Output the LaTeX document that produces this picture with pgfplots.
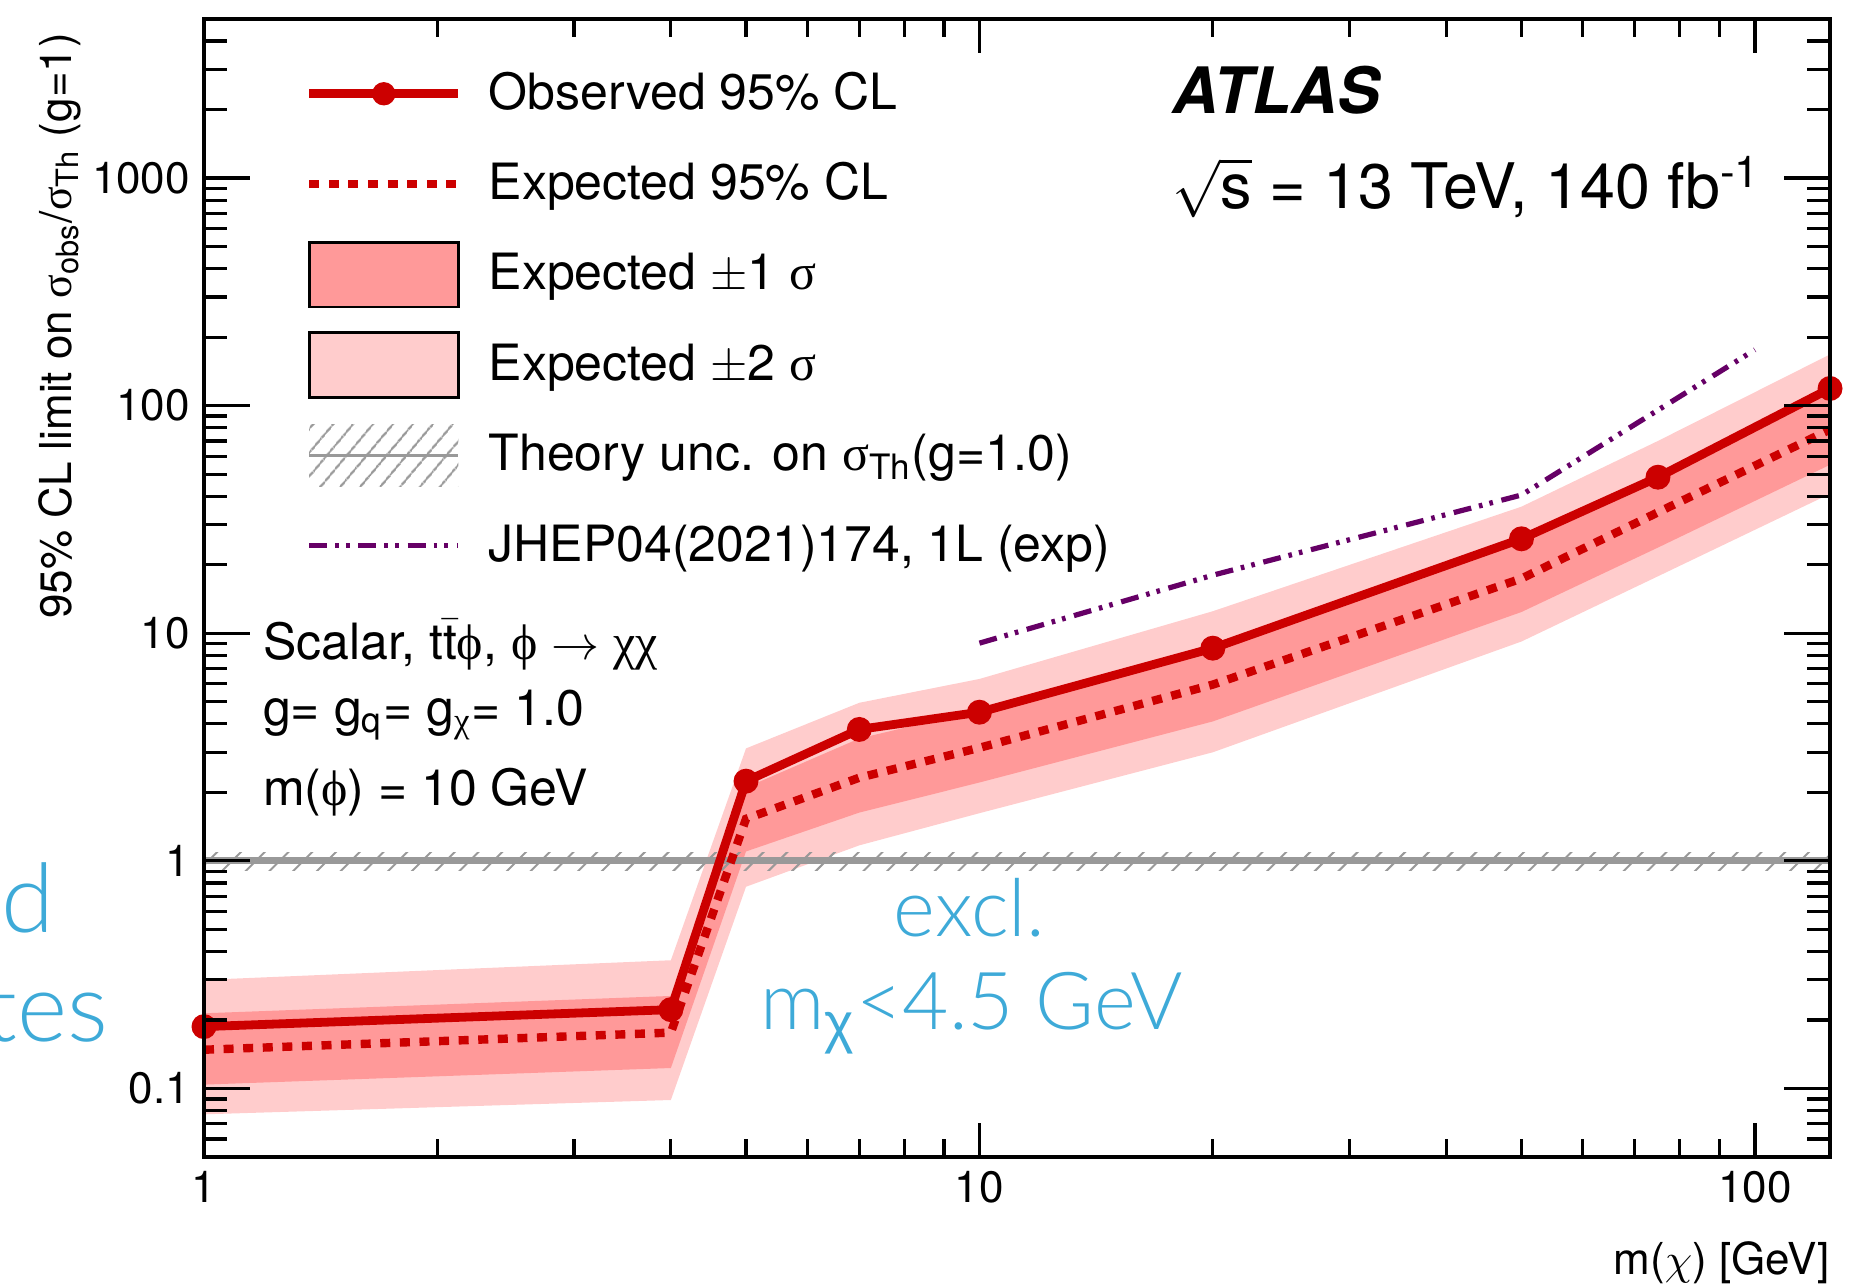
\documentclass[border=0pt]{standalone}
\usepackage{fontspec}
\setmainfont{TeX Gyre Heros}
\newfontfamily\grk{Liberation Serif}
\newfontfamily\lsans{Liberation Sans}
\IfFontExistsTF{Lato Light}
  {\newfontfamily\notefont{Lato Light}}
  {\newfontfamily\notefont{TeX Gyre Heros}}
\usepackage{amsmath}
\usepackage{pgfplots}
\pgfplotsset{compat=1.18}
\usepackage{pgfplotstable}
\usepgfplotslibrary{fillbetween}
\usetikzlibrary{patterns.meta}

\definecolor{obsred}{RGB}{204,0,0}
\definecolor{bandone}{RGB}{255,153,153}
\definecolor{bandtwo}{RGB}{255,204,204}
\definecolor{jhep}{RGB}{102,0,102}
\definecolor{thgray}{RGB}{153,153,153}
\definecolor{noteblue}{RGB}{62,170,216}

% limits vs. m(chi): observed, expected and the +-1 / +-2 sigma edges
\pgfplotstableread{
x    obs    exp    pone  mone   ptwo   mtwo
1    0.187  0.148  0.214 0.104  0.300  0.077
4    0.222  0.176  0.255 0.123  0.366  0.089
5    2.24   1.53   2.10  1.10   3.12   0.77
7    3.78   2.32   3.45  1.63   4.95   1.17
10   4.50   3.14   4.60  2.21   6.30   1.62
20   8.60   5.95   8.90  4.10   12.5   3.00
50   26.0   17.4   25.5  12.4   36.0   9.20
75   48.5   34.0   49.0  23.8   70.0   17.8
125  119    78.5   114   55.0   168    41.0
}\limtab

% earlier expected limit, JHEP04(2021)174
\pgfplotstableread{
x    y
10   9.05
20   18.0
50   40.5
100  176
}\jheptab

\newcommand{\legfont}{\fontsize{12.5}{15}\selectfont}
\newcommand{\tickfont}{\fontsize{11}{13}\selectfont}
\newcommand{\sig}{{\grk σ}}

\begin{document}
\begin{tikzpicture}
% data, y ticks, legend
\begin{axis}[
  at={(51pt,31.5pt)}, anchor=south west,
  scale only axis, width=406.5pt, height=284.5pt,
  xmode=log, ymode=log,
  xmin=1, xmax=125, ymin=0.05, ymax=5000,
  log ticks with fixed point,
  /pgf/number format/1000 sep={},
  /pgf/number format/assume math mode=true,
  tick label style={font=\tickfont},
  tick align=inside, tick pos=both,
  axis line style={line width=1pt},
  every tick/.style={black, line width=0.8pt},
  axis on top, clip mode=individual,
  xtick=\empty, xminorticks=false,
  ytick={0.1,1,10,100,1000},
  minor ytick={0.06,0.07,0.08,0.09,0.2,0.3,0.4,0.5,0.6,0.7,0.8,0.9,
               2,3,4,5,6,7,8,9,20,30,40,50,60,70,80,90,
               200,300,400,500,600,700,800,900,2000,3000,4000},
  major tick length=11.7pt, minor tick length=5.8pt,
  ylabel={95\% CL limit on \sig$_{\text{obs}}$/\sig$_{\text{Th}}$ (g=1)},
  ylabel style={at={(rel axis cs:-0.0814,1)}, anchor=base east, font=\tickfont},
  legend style={at={(rel axis cs:0.0615,0.9747)}, anchor=north west,
    draw=none, fill=none, inner sep=0pt, row sep=0pt, column sep=6.5pt,
    font=\legfont, nodes={inner sep=0pt}},
  legend cell align=left,
]
% legend keys
\addlegendimage{legend image code/.code={
  \path[draw=none, fill=none] (0pt,-11.3pt) rectangle (37.3pt,11.3pt);
  \draw[obsred, line width=2.2pt, mark=*, mark size=1.8pt, mark repeat=2, mark phase=2]
    plot coordinates {(0pt,0pt) (18.65pt,0pt) (37.3pt,0pt)};}}
\addlegendentry{Observed 95\% CL}
\addlegendimage{legend image code/.code={
  \path[draw=none, fill=none] (0pt,-11.3pt) rectangle (37.3pt,11.3pt);
  \draw[obsred, line width=2.1pt, dash pattern=on 2.5pt off 2.4pt] (0pt,0pt) -- (37.3pt,0pt);}}
\addlegendentry{Expected 95\% CL}
\addlegendimage{legend image code/.code={
  \path[draw=none, fill=none] (0pt,-11.3pt) rectangle (37.3pt,11.3pt);
  \draw[draw=black, fill=bandone, line width=0.7pt] (0pt,-8.1pt) rectangle (37.3pt,8.1pt);}}
\addlegendentry{Expected $\pm$1 \sig}
\addlegendimage{legend image code/.code={
  \path[draw=none, fill=none] (0pt,-11.3pt) rectangle (37.3pt,11.3pt);
  \draw[draw=black, fill=bandtwo, line width=0.7pt] (0pt,-8.1pt) rectangle (37.3pt,8.1pt);}}
\addlegendentry{Expected $\pm$2 \sig}
\addlegendimage{legend image code/.code={
  \path[draw=none, fill=none] (0pt,-11.3pt) rectangle (37.3pt,11.3pt);
  \path[draw=none, pattern={Lines[angle=50,distance=4pt,line width=0.6pt]}, pattern color=thgray]
    (0pt,-7.8pt) rectangle (37.3pt,7.8pt);
  \draw[thgray, line width=0.8pt] (0pt,0pt) -- (37.3pt,0pt);}}
\addlegendentry{Theory unc. on \sig$_{\text{Th}}$(g=1.0)}
\addlegendimage{legend image code/.code={
  \path[draw=none, fill=none] (0pt,-11.3pt) rectangle (37.3pt,11.3pt);
  \draw[jhep, line width=1.3pt, dash pattern=on 4.5pt off 2pt on 0.9pt off 1.8pt on 0.9pt off 2.2pt]
    (0pt,0pt) -- (37.3pt,0pt);}}
\addlegendentry{JHEP04(2021)174, 1L (exp)}

% +-2 sigma and +-1 sigma bands
\addplot[draw=none, name path=ptwo, forget plot] table[x=x, y=ptwo] {\limtab};
\addplot[draw=none, name path=mtwo, forget plot] table[x=x, y=mtwo] {\limtab};
\addplot[bandtwo, draw=none, forget plot] fill between[of=ptwo and mtwo];
\addplot[draw=none, name path=pone, forget plot] table[x=x, y=pone] {\limtab};
\addplot[draw=none, name path=mone, forget plot] table[x=x, y=mone] {\limtab};
\addplot[bandone, draw=none, forget plot] fill between[of=pone and mone];

% theory uncertainty on sigma_Th at g = 1
\addplot[draw=none, name path=thup, forget plot] coordinates {(1,1.09) (125,1.09)};
\addplot[draw=none, name path=thdn, forget plot] coordinates {(1,0.905) (125,0.905)};
\addplot[draw=none, pattern={Lines[angle=45,distance=4.2pt,line width=0.5pt]},
  pattern color=thgray, forget plot] fill between[of=thup and thdn];
\addplot[thgray, line width=1.7pt, forget plot] coordinates {(1,1) (125,1)};

% expected and observed limits
\addplot[obsred, line width=2.1pt, dash pattern=on 2.5pt off 2.4pt, forget plot]
  table[x=x, y=exp] {\limtab};
\addplot[obsred, line width=2.2pt, mark=*, mark size=2.0pt, forget plot]
  table[x=x, y=obs] {\limtab};

% JHEP04(2021)174
\addplot[jhep, line width=1.3pt,
  dash pattern=on 4.5pt off 2pt on 0.9pt off 1.8pt on 0.9pt off 2.2pt, forget plot]
  table[x=x, y=y] {\jheptab};

% labels
\node[anchor=base west, inner sep=0pt, font=\fontsize{16}{19}\selectfont\bfseries\itshape]
  at (rel axis cs:0.5953,0.9165) {ATLAS};
\node[anchor=base west, inner sep=0pt, font=\fontsize{15.7}{19}\selectfont]
  at (rel axis cs:0.5951,0.8336) {$\sqrt{\text{s}}$ = 13 TeV, 140 fb\textsuperscript{-1}};
\node[anchor=base west, inner sep=0pt, font=\legfont]
  at (rel axis cs:0.0359,0.4375) {Scalar, t$\bar{\text{t}}${\grk ϕ}, {\grk ϕ} $\rightarrow$ {\grk χχ}};
\node[anchor=base west, inner sep=0pt, font=\legfont]
  at (rel axis cs:0.0359,0.3794) {g= g$_{\text{q}}$= g$_{\text{\grk χ}}$= 1.0};
\node[anchor=base west, inner sep=0pt, font=\legfont]
  at (rel axis cs:0.0359,0.3091) {m({\grk ϕ}) = 10 GeV};
\node[anchor=base, text=noteblue, font=\notefont\fontsize{20}{24}\selectfont]
  at (rel axis cs:0.4708,0.1936) {excl.};
\node[anchor=base, text=noteblue, font=\notefont\fontsize{20}{24}\selectfont]
  at (rel axis cs:0.4721,0.1116) {m\textsubscript{\lsans χ}<4.5 GeV};
\end{axis}

% x ticks and x label
\begin{axis}[
  at={(51pt,31.5pt)}, anchor=south west,
  scale only axis, width=406.5pt, height=284.5pt,
  xmode=log, ymode=log,
  xmin=1, xmax=125, ymin=0.05, ymax=5000,
  log ticks with fixed point,
  /pgf/number format/1000 sep={},
  /pgf/number format/assume math mode=true,
  tick label style={font=\tickfont},
  tick align=inside, tick pos=both,
  axis line style={line width=1pt},
  every tick/.style={black, line width=0.8pt},
  xtick={1,10,100},
  minor xtick={2,3,4,5,6,7,8,9,20,30,40,50,60,70,80,90},
  ytick=\empty, yminorticks=false,
  major tick length=8.6pt, minor tick length=4.4pt,
  xlabel={m($\chi$) [GeV]},
  xlabel style={at={(rel axis cs:1,-0.0931)}, anchor=east, inner sep=0pt, font=\tickfont},
]
\end{axis}

% side note running in from the left margin
\node[anchor=base east, inner sep=0pt, text=noteblue, font=\notefont\fontsize{24}{28}\selectfont]
  at (13.8pt,87.5pt) {d};
\node[anchor=base east, inner sep=0pt, text=noteblue, font=\notefont\fontsize{24}{28}\selectfont]
  at (27.2pt,60.3pt) {tes};

\pgfresetboundingbox
\useasboundingbox (0,0) rectangle (467.25pt,320.75pt);
\end{tikzpicture}
\end{document}
